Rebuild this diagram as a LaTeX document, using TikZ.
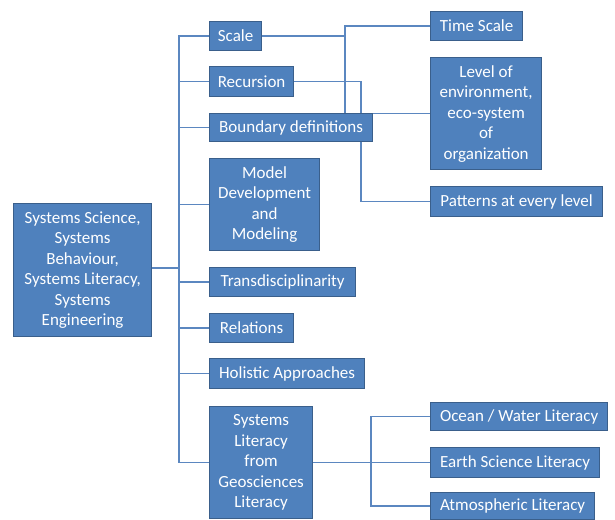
\documentclass[tikz,border=0pt]{standalone}
\usepackage{fontspec}
\setmainfont{Carlito}
\usetikzlibrary{positioning,backgrounds}
\definecolor{boxblue}{HTML}{4F81BD}
\definecolor{boxedge}{HTML}{3A5F8B}
\definecolor{linkblue}{HTML}{5B87C0}

\begin{document}
\begin{tikzpicture}[x=1pt, y=-1pt,
  box/.style={draw=boxedge, line width=1.2pt, fill=boxblue, text=white, anchor=north west,
    inner sep=0pt, align=center, font=\fontsize{17}{20.5}\selectfont},
  link/.style={draw=linkblue, line width=1.5pt}]
\useasboundingbox (0,0) rectangle (615,519);

\node[box, minimum width=138, minimum height=133] (root) at (13,203) {Systems Science,\\ Systems\\ Behaviour,\\ Systems Literacy,\\ Systems\\ Engineering};

\node[box, minimum width=52, minimum height=29] (scale) at (209,21) {Scale};
\node[box, minimum width=84, minimum height=30] (recursion) at (209,66) {Recursion};
\node[box, minimum width=163, minimum height=28] (boundary) at (209,113) {Boundary definitions};
\node[box, minimum width=110, minimum height=92] (model) at (209,158) {Model\\ Development\\ and\\ Modeling};
\node[box, minimum width=146, minimum height=29] (trans) at (209,267) {Transdisciplinarity};
\node[box, minimum width=84, minimum height=29] (relations) at (209,313) {Relations};
\node[box, minimum width=155, minimum height=30] (holistic) at (209,358) {Holistic Approaches};
\node[box, minimum width=103, minimum height=112] (sysgeo) at (209,406) {Systems\\ Literacy\\ from\\ Geosciences\\ Literacy};

\node[box, minimum width=92, minimum height=29] (timescale) at (430,11) {Time Scale};
\node[box, minimum width=111, minimum height=112] (level) at (430,57) {Level of\\ environment,\\ eco-system\\ of\\ organization};
\node[box, minimum width=172, minimum height=30] (patterns) at (430,186) {Patterns at every level};

\node[box, minimum width=177, minimum height=28] (ocean) at (430,402) {Ocean / Water Literacy};
\node[box, minimum width=169, minimum height=30] (earth) at (430,447) {Earth Science Literacy};
\node[box, minimum width=164, minimum height=27] (atmos) at (430,492) {Atmospheric Literacy};

% x positions of the elbows
\coordinate (trunk) at (179,268);
\coordinate (sfork) at (345,0);
\coordinate (rfork) at (361,0);
\coordinate (gfork) at (371,0);

\begin{scope}[on background layer]
\draw[link] (root.east |- trunk) -- (trunk);
\foreach \n in {scale,recursion,boundary,model,trans,relations,holistic,sysgeo}
  \draw[link] (\n.west) -| (trunk);
\draw[link] (scale.east) -- (scale.east -| sfork) |- (timescale.west);
\draw[link] (scale.east -| sfork) |- (level.west);
\draw[link] (recursion.east) -- (recursion.east -| rfork) |- (patterns.west);
\draw[link] (sysgeo.east) -- (sysgeo.east -| gfork);
\foreach \n in {ocean,earth,atmos}
  \draw[link] (\n.west) -| (sysgeo.east -| gfork);
\end{scope}
\end{tikzpicture}
\end{document}
